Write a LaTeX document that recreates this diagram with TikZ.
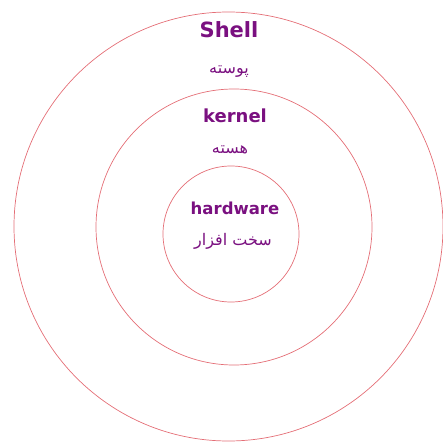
\documentclass[tikz,border=0pt]{standalone}
\usepackage{fontspec}
\setmainfont{DejaVu Sans}
\newfontfamily\arabicfont[Script=Arabic]{DejaVu Sans}
\TeXXeTstate=1
\usetikzlibrary{positioning}
\definecolor{ringred}{RGB}{228,110,118}
\definecolor{labpurple}{RGB}{122,16,128}

\tikzset{
  ring/.style={circle, draw=ringred, line width=0.7pt, inner sep=0pt},
  latinlab/.style={text=labpurple, font=\bfseries\fontsize{16.5}{18}\selectfont},
  farsilab/.style={text=labpurple, font=\arabicfont\fontsize{16}{18}\selectfont}
}

\begin{document}
\begin{tikzpicture}[x=1pt, y=-1pt]
  \useasboundingbox (0,0) rectangle (443,444);
  % three layers
  \node[ring, minimum size=429pt] (shellring) at (228.5,226.5) {};
  \node[ring, minimum size=276pt] (kernelring) at (234,227) {};
  \node[ring, minimum size=136pt] (hwring) at (231,234) {};

  \node[latinlab, font=\bfseries\fontsize{21}{23}\selectfont] (shell) at (229,30) {Shell};
  \node[farsilab] (shellfa) at (229,72) {\beginR پوسته\endR};
  \node[latinlab, font=\bfseries\fontsize{18}{20}\selectfont] (kernel) at (235,116) {kernel};
  \node[farsilab] (kernelfa) at (230,150) {\beginR هسته\endR};
  \node[latinlab] (hardware) at (235,208) {hardware};
  \node[farsilab] (hardwarefa) at (233,241) {\beginR سخت افزار\endR};
\end{tikzpicture}
\end{document}
